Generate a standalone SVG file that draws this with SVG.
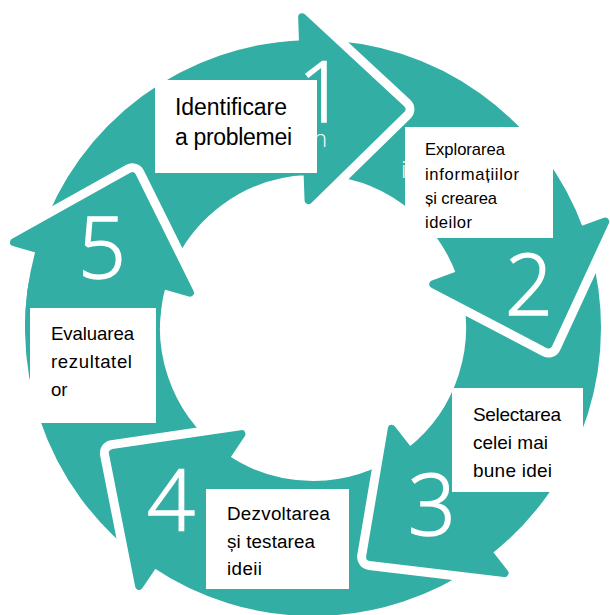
<svg xmlns="http://www.w3.org/2000/svg" xmlns:xlink="http://www.w3.org/1999/xlink" width="610" height="615" viewBox="0 0 610 615">
  <style>
    .halo { fill: #ffffff; stroke: #ffffff; stroke-width: 26; stroke-linejoin: round; }
    .band { fill: #32AEA4; stroke: #32AEA4; stroke-width: 8; stroke-linejoin: round; }
    .num { font-family: "Open Sans", Lato, "DejaVu Sans", sans-serif; font-weight: 300; font-size: 84px; fill: #ffffff; stroke: #ffffff; stroke-width: 1.6; text-anchor: middle; }
    .ghost { font-family: "Open Sans", "DejaVu Sans", sans-serif; font-weight: 300; font-size: 24px; fill: #ffffff; }
    .box { fill: #ffffff; }
    .lbl { font-family: "Liberation Sans", Arial, sans-serif; fill: #000000; }
  </style>
  <defs>
    <!-- one curved arrow of the ring, head base on the +x axis, centre at origin -->
    <path id="arrow" d="M 101.78 -265.14 A 284 284 0 0 1 284 0 L 311 0 L 215.6 95.99 L 128 0 L 157 0 A 157 157 0 0 0 56.26 -146.57 Z"/>
    <!-- sectors around the head of arrow 5, so it sits above the tail of arrow 1 -->
    <clipPath id="head5-halo">
      <polygon points="313,328 -41.5,266.3 13.2,123.5 106.5,33.1"/>
    </clipPath>
    <clipPath id="head5-band">
      <polygon points="313,328 -50,328 -2.8,146.5 98.8,38.8"/>
    </clipPath>
  </defs>

  <rect width="610" height="615" fill="#ffffff"/>

  <g id="connectors">
    <g id="arrow-5" transform="translate(313 328) rotate(196)">
      <use xlink:href="#arrow" class="halo"/>
      <use xlink:href="#arrow" class="band"/>
    </g>
    <g id="arrow-4" transform="translate(313 328) rotate(124)">
      <use xlink:href="#arrow" class="halo"/>
      <use xlink:href="#arrow" class="band"/>
    </g>
    <g id="arrow-3" transform="translate(313 328) rotate(52)">
      <use xlink:href="#arrow" class="halo"/>
      <use xlink:href="#arrow" class="band"/>
    </g>
    <g id="arrow-2" transform="translate(313 328) rotate(340)">
      <use xlink:href="#arrow" class="halo"/>
      <use xlink:href="#arrow" class="band"/>
    </g>
    <g id="arrow-1" transform="translate(313 328) rotate(268)">
      <use xlink:href="#arrow" class="halo"/>
      <use xlink:href="#arrow" class="band"/>
    </g>
    <!-- arrow 5 head laid again over the start of arrow 1 -->
    <g id="arrow-5-head">
      <g clip-path="url(#head5-halo)">
        <use xlink:href="#arrow" class="halo" transform="translate(313 328) rotate(196)"/>
      </g>
      <g clip-path="url(#head5-band)">
        <use xlink:href="#arrow" class="band" transform="translate(313 328) rotate(196)"/>
      </g>
    </g>
  </g>

  <g id="step-1">
    <text class="num" x="322" y="122">1</text>
    <text class="ghost" x="313" y="147">n</text>
    <rect class="box" x="155" y="80" width="162" height="93"/>
    <text class="lbl" font-size="23">
      <tspan x="175" y="115" textLength="112" lengthAdjust="spacing">Identificare</tspan>
      <tspan x="175" y="145" textLength="117" lengthAdjust="spacing">a problemei</tspan>
    </text>
  </g>

  <g id="step-2">
    <text class="num" x="529" y="315">2</text>
    <text class="ghost" x="401" y="178">i</text>
    <rect class="box" x="405" y="127" width="148" height="111"/>
    <text class="lbl" font-size="16.6">
      <tspan x="425" y="155" textLength="80" lengthAdjust="spacing">Explorarea</tspan>
      <tspan x="425" y="180" textLength="94" lengthAdjust="spacing">informațiilor</tspan>
      <tspan x="425" y="204" textLength="72" lengthAdjust="spacing">și crearea</tspan>
      <tspan x="425" y="228" textLength="47" lengthAdjust="spacing">ideilor</tspan>
    </text>
  </g>

  <g id="step-3">
    <text class="num" x="432" y="535">3</text>
    <rect class="box" x="452" y="388" width="131" height="104"/>
    <text class="lbl" font-size="19">
      <tspan x="473" y="421" textLength="88" lengthAdjust="spacing">Selectarea</tspan>
      <tspan x="473" y="449" textLength="75" lengthAdjust="spacing">celei mai</tspan>
      <tspan x="473" y="477" textLength="79" lengthAdjust="spacing">bune idei</tspan>
    </text>
  </g>

  <g id="step-4">
    <text class="num" x="171" y="530">4</text>
    <rect class="box" x="206" y="489" width="143" height="100"/>
    <text class="lbl" font-size="18.8">
      <tspan x="227" y="520" textLength="103" lengthAdjust="spacing">Dezvoltarea</tspan>
      <tspan x="227" y="548" textLength="88" lengthAdjust="spacing">și testarea</tspan>
      <tspan x="227" y="575" textLength="35" lengthAdjust="spacing">ideii</tspan>
    </text>
  </g>

  <g id="step-5">
    <text class="num" x="102" y="278">5</text>
    <rect class="box" x="30" y="308" width="126" height="115"/>
    <text class="lbl" font-size="18.6">
      <tspan x="51" y="340" textLength="83" lengthAdjust="spacing">Evaluarea</tspan>
      <tspan x="51" y="368" textLength="81" lengthAdjust="spacing">rezultatel</tspan>
      <tspan x="51" y="396">or</tspan>
    </text>
  </g>
</svg>
